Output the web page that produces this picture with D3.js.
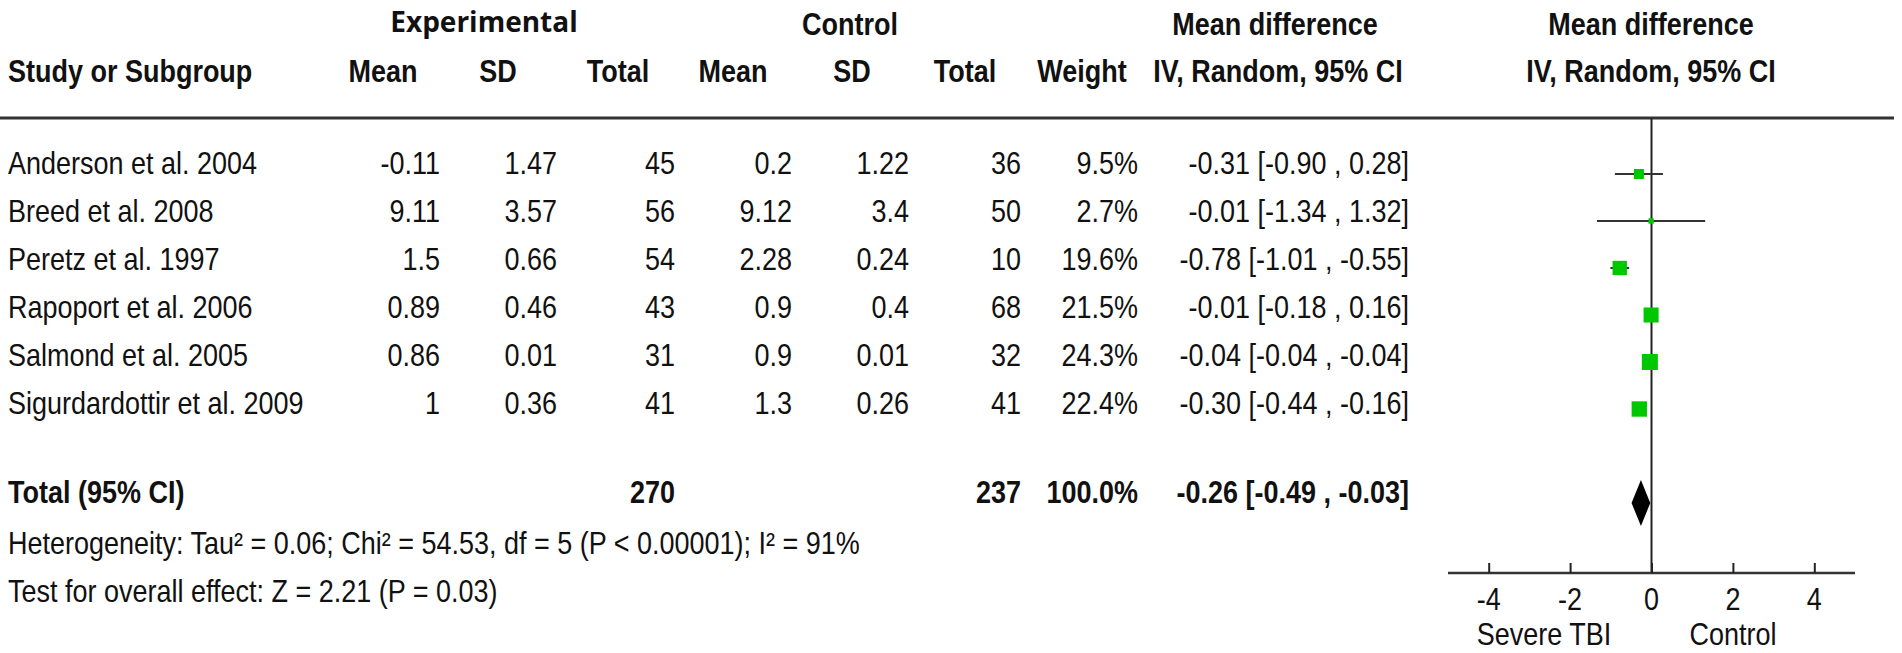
<!DOCTYPE html>
<html>
<head>
<meta charset="utf-8">
<script src="https://cdn.jsdelivr.net/npm/d3@7"></script>
<style>
  body { margin: 0; background: #fff; }
  svg text { font-family: "Liberation Sans", Arial, sans-serif; fill: #111; }
</style>
</head>
<body>
<div id="chart"></div>
<script>
// Forest plot data
var studies = ["Anderson et al. 2004", "Breed et al. 2008", "Peretz et al. 1997",
               "Rapoport et al. 2006", "Salmond et al. 2005", "Sigurdardottir et al. 2009"];
var exp_mean = [-0.11, 9.11, 1.5, 0.89, 0.86, 1];
var exp_sd = [1.47, 3.57, 0.66, 0.46, 0.01, 0.36];
var exp_total = [45, 56, 54, 43, 31, 41];
var ctrl_mean = [0.2, 9.12, 2.28, 0.9, 0.9, 1.3];
var ctrl_sd = [1.22, 3.4, 0.24, 0.4, 0.01, 0.26];
var ctrl_total = [36, 50, 10, 68, 32, 41];
var weight = [9.5, 2.7, 19.6, 21.5, 24.3, 22.4];
var md = [-0.31, -0.01, -0.78, -0.01, -0.04, -0.30];
var ci_low = [-0.90, -1.34, -1.01, -0.18, -0.04, -0.44];
var ci_high = [0.28, 1.32, -0.55, 0.16, -0.04, -0.16];

// pooled estimate
var total_label = "Total (95% CI)";
var pooled = {exp_total: 270, ctrl_total: 237, weight: 100.0, md: -0.26, low: -0.49, high: -0.03};
var heterogeneity = "Heterogeneity: Tau\u00b2 = 0.06; Chi\u00b2 = 54.53, df = 5 (P < 0.00001); I\u00b2 = 91%";
var overall = "Test for overall effect: Z = 2.21 (P = 0.03)";

var axis_ticks = [-4, -2, 0, 2, 4];
var favours = ["Severe TBI", "Control"];

// Layout
var svg_width = 1902;
var svg_height = 653;
var font_size = 27;
var stretch = 1.15;   // the original text is a little taller than it is wide

var svg = d3.select("#chart").append("svg")
  .attr("width", svg_width)
  .attr("height", svg_height);

svg.append("rect")
  .attr("width", svg_width)
  .attr("height", svg_height)
  .attr("fill", "#fff");

// row positions
var textY = d3.scaleLinear().domain([0, studies.length - 1]).range([174, 414]);
var markY = d3.scaleLinear().domain([0, studies.length - 1]).range([174, 409]);
var totalY = 503;

// forest plot x scale
var x = d3.scaleLinear().domain([-5, 5]).range([1448, 1855]);
var axisY = 573;

function fmt(v, d) { return v.toFixed(d); }
function ciText(m, lo, hi) { return fmt(m, 2) + " [" + fmt(lo, 2) + " , " + fmt(hi, 2) + "]"; }

function addText(str, px, py, anchor, bold, size) {
  return svg.append("text")
    .attr("transform", "translate(" + px + "," + py + ") scale(1," + stretch + ")")
    .attr("text-anchor", anchor || "start")
    .attr("font-weight", bold ? "bold" : "normal")
    .attr("font-size", (size || font_size) + "px")
    .text(str);
}

// Header
svg.append("text")
  .attr("x", 484).attr("y", 32)
  .attr("text-anchor", "middle")
  .attr("font-weight", "bold")
  .attr("font-size", "28px")
  .style("font-family", "'Open Sans', sans-serif")
  .text("Experimental");
addText("Control", 850, 35, "middle", true);
addText("Mean difference", 1275, 35, "middle", true);
addText("Mean difference", 1651, 35, "middle", true);

var header_cols = [
  {label: "Study or Subgroup", x: 8, anchor: "start"},
  {label: "Mean", x: 383, anchor: "middle"},
  {label: "SD", x: 498, anchor: "middle"},
  {label: "Total", x: 618, anchor: "middle"},
  {label: "Mean", x: 733, anchor: "middle"},
  {label: "SD", x: 852, anchor: "middle"},
  {label: "Total", x: 965, anchor: "middle"},
  {label: "Weight", x: 1082, anchor: "middle"},
  {label: "IV, Random, 95% CI", x: 1278, anchor: "middle"},
  {label: "IV, Random, 95% CI", x: 1651, anchor: "middle"}
];
header_cols.forEach(function(h) { addText(h.label, h.x, 82, h.anchor, true); });

// header rule
svg.append("line")
  .attr("x1", 0).attr("x2", 1894)
  .attr("y1", 118).attr("y2", 118)
  .attr("stroke", "#333").attr("stroke-width", 3);

// Table body
var columns = [
  {vals: exp_mean, x: 440, f: function(v) { return String(v); }},
  {vals: exp_sd, x: 557, f: function(v) { return String(v); }},
  {vals: exp_total, x: 675, f: function(v) { return String(v); }},
  {vals: ctrl_mean, x: 792, f: function(v) { return String(v); }},
  {vals: ctrl_sd, x: 909, f: function(v) { return String(v); }},
  {vals: ctrl_total, x: 1021, f: function(v) { return String(v); }},
  {vals: weight, x: 1138, f: function(v) { return fmt(v, 1) + "%"; }}
];

studies.forEach(function(s, i) {
  addText(s, 8, textY(i), "start", false);
  columns.forEach(function(c) { addText(c.f(c.vals[i]), c.x, textY(i), "end", false); });
  addText(ciText(md[i], ci_low[i], ci_high[i]), 1409, textY(i), "end", false);
});

// Total row
addText(total_label, 8, totalY, "start", true);
addText(String(pooled.exp_total), 675, totalY, "end", true);
addText(String(pooled.ctrl_total), 1021, totalY, "end", true);
addText(fmt(pooled.weight, 1) + "%", 1138, totalY, "end", true);
addText(ciText(pooled.md, pooled.low, pooled.high), 1409, totalY, "end", true);

addText(heterogeneity, 8, 554, "start", false);
addText(overall, 8, 602, "start", false);

// Forest plot: zero line
svg.append("line")
  .attr("x1", x(0)).attr("x2", x(0))
  .attr("y1", 118).attr("y2", axisY)
  .attr("stroke", "#222").attr("stroke-width", 2);

// CI whiskers
svg.selectAll(".ci")
  .data(studies)
  .enter()
  .append("line")
  .attr("class", "ci")
  .attr("x1", function(d, i) { return x(ci_low[i]); })
  .attr("x2", function(d, i) { return x(ci_high[i]); })
  .attr("y1", function(d, i) { return markY(i); })
  .attr("y2", function(d, i) { return markY(i); })
  .attr("stroke", "#333")
  .attr("stroke-width", 2);

// weight squares
var size = d3.scaleSqrt().domain([0, 24.3]).range([0, 16]);
svg.selectAll(".sq")
  .data(studies)
  .enter()
  .append("rect")
  .attr("class", "sq")
  .attr("x", function(d, i) { return x(md[i]) - size(weight[i]) / 2; })
  .attr("y", function(d, i) { return markY(i) - size(weight[i]) / 2; })
  .attr("width", function(d, i) { return size(weight[i]); })
  .attr("height", function(d, i) { return size(weight[i]); })
  .attr("fill", "#00c800");

// pooled diamond
svg.append("path")
  .attr("d", "M" + x(pooled.low) + "," + totalY +
             "L" + x(pooled.md) + "," + (totalY - 23) +
             "L" + x(pooled.high) + "," + totalY +
             "L" + x(pooled.md) + "," + (totalY + 23) + "Z")
  .attr("fill", "#000");

// x axis
var axis = svg.append("g")
  .attr("transform", "translate(0," + axisY + ")")
  .call(d3.axisTop(x).tickValues(axis_ticks).tickSize(10).tickFormat(""));
axis.select(".domain").attr("stroke", "#333").attr("stroke-width", 2.5).attr("d", "M" + x(-5) + ",0H" + x(5));
axis.selectAll(".tick line").attr("stroke", "#222").attr("stroke-width", 2);

axis_ticks.forEach(function(t) {
  addText(String(t), x(t), 610, "middle", false);
});

addText(favours[0], 1544, 645, "middle", false);
addText(favours[1], x(2), 645, "middle", false);
</script>
</body>
</html>
